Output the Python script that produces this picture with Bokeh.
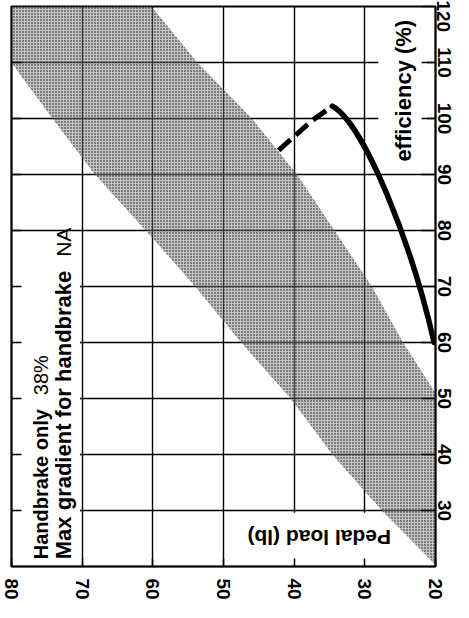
import math
from bokeh.plotting import figure
from bokeh.models import Range1d, LinearAxis, FixedTicker
from bokeh.core.properties import value
from bokeh.embed import file_html
from bokeh.resources import INLINE

# ---- data (pedal load in lb, efficiency in %) ----
pedal_ticks = [80, 70, 60, 50, 40, 30, 20]
eff_ticks = [30, 40, 50, 60, 70, 80, 90, 100, 110, 120]

# shaded band: upper edge then lower edge
band_upper_pedal = [80.0, 60.2, 53.7, 46.0, 39.6, 34.3, 29.0, 24.6, 20.0]
band_upper_eff = [120.0, 120.0, 110.0, 100.0, 90.0, 80.0, 70.0, 60.0, 51.0]
band_lower_pedal = [20.0, 27.6, 34.6, 40.5, 47.5, 54.0, 61.0, 68.2, 74.2, 79.7, 80.0]
band_lower_eff = [20.3, 30.0, 40.0, 50.0, 60.0, 70.0, 80.0, 90.0, 100.0, 109.4, 110.0]

# solid curve: start point, end point and two control points
solid_start = (20.2, 60.0)
solid_ctrl1 = (23.35, 77.6)
solid_ctrl2 = (30.1, 99.1)
solid_end = (34.6, 102.2)

# dashed curve
dashed_pedal = [42.2, 40.0, 37.5, 34.6]
dashed_eff = [94.3, 96.8, 99.6, 102.2]

FONT = value("Liberation Sans")

p = figure(width=453, height=602,
           x_range=Range1d(80, 20), y_range=Range1d(20, 120),
           output_backend="svg", toolbar_location=None,
           x_axis_location="below", y_axis_location="right",
           min_border_left=11, min_border_top=6, min_border_right=0, min_border_bottom=0)

p.background_fill_color = "white"
p.outline_line_color = "black"
p.outline_line_width = 2

# bottom axis (pedal load)
xa = p.xaxis[0]
xa.ticker = FixedTicker(ticks=pedal_ticks)
xa.major_label_orientation = "vertical"
xa.major_label_text_font = "Liberation Sans"
xa.major_label_text_font_style = "bold"
xa.major_label_text_font_size = "19px"
xa.major_label_text_color = "black"
xa.major_label_standoff = 12
xa.major_tick_in = 8
xa.major_tick_out = 0
xa.major_tick_line_color = "black"
xa.major_tick_line_width = 1.5
xa.minor_tick_line_color = None
xa.axis_line_color = "black"
xa.axis_line_width = 1.5

# right axis (efficiency)
ya = p.yaxis[0]
ya.ticker = FixedTicker(ticks=eff_ticks)
ya.major_label_orientation = "parallel"
ya.major_label_text_font = "Liberation Sans"
ya.major_label_text_font_style = "bold"
ya.major_label_text_font_size = "19px"
ya.major_label_text_color = "black"
ya.major_label_standoff = 2
ya.major_tick_in = 14
ya.major_tick_out = 0
ya.major_tick_line_color = "black"
ya.major_tick_line_width = 1.5
ya.minor_tick_line_color = None
ya.axis_line_color = "black"
ya.axis_line_width = 1.5

# left axis: inward ticks only
la = LinearAxis(ticker=FixedTicker(ticks=eff_ticks[:-1]),
                major_tick_in=10, major_tick_out=0,
                major_tick_line_color="black", major_tick_line_width=1.5,
                minor_tick_line_color=None,
                major_label_text_font_size="0px", major_label_standoff=0,
                axis_line_color="black", axis_line_width=1.5)
p.add_layout(la, "left")

p.xgrid.ticker = FixedTicker(ticks=pedal_ticks)
p.ygrid.ticker = FixedTicker(ticks=eff_ticks)
p.grid.grid_line_color = "black"
p.grid.grid_line_width = 1.4
p.grid.grid_line_alpha = 1.0

# white label boxes (hide grid lines)
p.quad(left=[79.8, 28.1, 47.2], right=[70.3, 21.2, 26.0],
       bottom=[20.3, 91.3, 20.3], top=[79.5, 119.6, 29.6],
       fill_color="white", line_color=None)

# stippled band
band_x = band_upper_pedal + band_lower_pedal
band_y = band_upper_eff + band_lower_eff
p.patch(band_x, band_y, fill_color="#8a8a8a", fill_alpha=0.5,
        hatch_pattern="dot", hatch_scale=3, hatch_color="black",
        hatch_weight=1.3, hatch_alpha=0.9, line_color=None)

# curves
p.line(dashed_pedal, dashed_eff, line_color="black", line_width=5,
       line_dash="16 7", line_cap="butt")
p.bezier(x0=[solid_start[0]], y0=[solid_start[1]],
         x1=[solid_end[0]], y1=[solid_end[1]],
         cx0=[solid_ctrl1[0]], cy0=[solid_ctrl1[1]],
         cx1=[solid_ctrl2[0]], cy1=[solid_ctrl2[1]],
         line_color="black", line_width=5.5, line_cap="round")

# texts
def txt(x, y, s, angle, style="bold", size="21px"):
    p.text(x=[x], y=[y], text=[s], angle=angle, text_font=FONT,
           text_font_style=style, text_font_size=size, text_color="black",
           text_align="left", text_baseline="alphabetic")

txt(75.8, 21.3, "Handbrake only", math.pi / 2, size="20px")
txt(75.8, 50.6, "38%", math.pi / 2, style="normal", size="20px")
txt(72.6, 21.3, "Max gradient for handbrake", math.pi / 2, size="22px")
txt(72.6, 75.3, "NA", math.pi / 2, style="normal", size="21px")
txt(24.5, 92.3, "efficiency (%)", math.pi / 2, size="22px")
txt(26.3, 25.2, "Pedal load (lb)", math.pi)

open("out.html", "w").write(file_html(p, INLINE))
